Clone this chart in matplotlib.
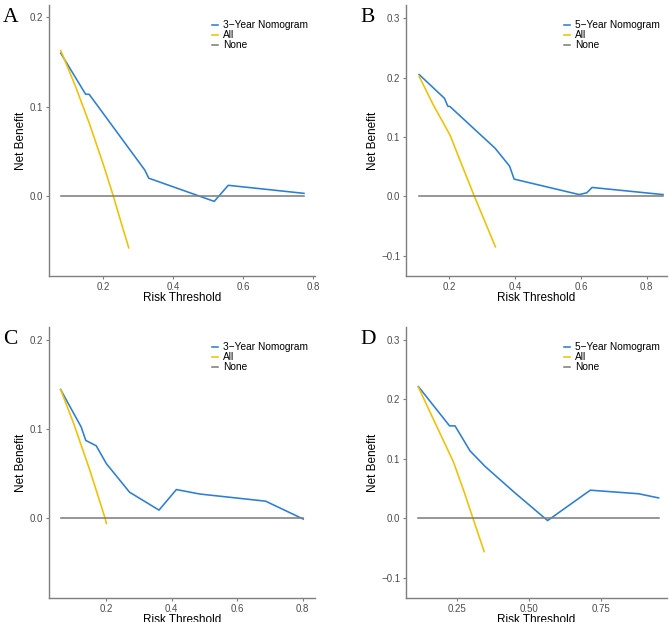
import matplotlib
matplotlib.use('Agg')
import matplotlib.pyplot as plt

plt.rcParams['font.family'] = ['Liberation Sans', 'DejaVu Sans']

# panel A: 3-year, cohort 1
a_nomo_x = [0.079, 0.150, 0.160, 0.319, 0.330, 0.517, 0.557, 0.773]
a_nomo_y = [0.160, 0.114, 0.114, 0.029, 0.020, -0.006, 0.012, 0.003]
a_all_x = [0.079, 0.12, 0.16, 0.20, 0.229, 0.25, 0.273]
a_all_y = [0.163, 0.124, 0.082, 0.036, 0.0, -0.028, -0.058]

# panel B: 5-year, cohort 1
b_nomo_x = [0.108, 0.185, 0.195, 0.202, 0.339, 0.383, 0.397, 0.595, 0.618, 0.634, 0.850]
b_nomo_y = [0.205, 0.165, 0.152, 0.151, 0.081, 0.051, 0.029, 0.003, 0.006, 0.015, 0.003]
b_all_x = [0.108, 0.15, 0.202, 0.24, 0.276, 0.31, 0.340]
b_all_y = [0.202, 0.155, 0.103, 0.050, 0.0, -0.045, -0.085]

# panel C: 3-year, cohort 2
c_nomo_x = [0.060, 0.123, 0.137, 0.169, 0.200, 0.271, 0.361, 0.414, 0.486, 0.687, 0.802]
c_nomo_y = [0.144, 0.102, 0.087, 0.081, 0.061, 0.029, 0.009, 0.032, 0.027, 0.019, -0.001]
c_all_x = [0.060, 0.10, 0.15, 0.196, 0.200]
c_all_y = [0.144, 0.106, 0.053, 0.0, -0.006]

# panel D: 5-year, cohort 2
d_nomo_x = [0.117, 0.225, 0.244, 0.296, 0.348, 0.453, 0.565, 0.713, 0.881, 0.950]
d_nomo_y = [0.221, 0.155, 0.155, 0.113, 0.087, 0.042, -0.004, 0.047, 0.041, 0.034]
d_all_x = [0.117, 0.17, 0.238, 0.275, 0.306, 0.345]
d_all_y = [0.220, 0.165, 0.095, 0.045, 0.0, -0.056]

blue = '#2a7fd4'
yellow = '#f2c000'
grey = '#7f7f7f'

panels = [
    ('A', '3\u2212Year Nomogram', a_nomo_x, a_nomo_y, a_all_x, a_all_y,
     [49, 5, 315, 276], (0.0455, 0.8045), (-0.0896, 0.214), [0.2, 0.4, 0.6, 0.8], [0.0, 0.1, 0.2], '%.1f'),
    ('B', '5\u2212Year Nomogram', b_nomo_x, b_nomo_y, b_all_x, b_all_y,
     [406, 5, 667, 276], (0.068, 0.862), (-0.134, 0.322), [0.2, 0.4, 0.6, 0.8], [-0.1, 0.0, 0.1, 0.2, 0.3], '%.1f'),
    ('C', '3\u2212Year Nomogram', c_nomo_x, c_nomo_y, c_all_x, c_all_y,
     [49, 327, 315, 598], (0.0245, 0.838), (-0.0894, 0.214), [0.2, 0.4, 0.6, 0.8], [0.0, 0.1, 0.2], '%.1f'),
    ('D', '5\u2212Year Nomogram', d_nomo_x, d_nomo_y, d_all_x, d_all_y,
     [406, 327, 667, 598], (0.074, 0.979), (-0.134, 0.321), [0.25, 0.50, 0.75], [-0.1, 0.0, 0.1, 0.2, 0.3], '%.2f'),
]

W, H = 669, 622
fig = plt.figure(figsize=(W / 100, H / 100), dpi=100)

for letter, lab, nx, ny, ax_x, ax_y, box, xl, yl, xt, yt, xfmt in panels:
    l, t, r, b = box
    ax = fig.add_axes([l / W, 1 - b / H, (r - l) / W, (b - t) / H])
    ax.plot(nx, ny, color=blue, lw=1.15, label=lab)
    ax.plot(ax_x, ax_y, color=yellow, lw=1.15, label='All')
    ax.plot([nx[0], nx[-1]], [0, 0], color=grey, lw=1.15, label='None')
    ax.set_xlim(*xl)
    ax.set_ylim(*yl)
    ax.set_xticks(xt)
    ax.set_xticklabels([xfmt % v for v in xt])
    ax.set_yticks(yt)
    ax.set_yticklabels(['%.1f' % v if v >= 0 else '\u2212%.1f' % -v for v in yt])
    for s in ['top', 'right']:
        ax.spines[s].set_visible(False)
    for s in ['left', 'bottom']:
        ax.spines[s].set_color(grey)
        ax.spines[s].set_linewidth(1.0)
    ax.tick_params(colors=grey, labelcolor='#4d4d4d', labelsize=7, length=2.5, width=0.8, pad=1.5)
    ax.set_xlabel('Risk Threshold', fontsize=8.5, labelpad=0)
    ax.set_ylabel('Net Benefit', fontsize=8.5, labelpad=2)
    ax.legend(loc='upper right', bbox_to_anchor=(1.0, 0.97), frameon=False, fontsize=7.3,
              handlelength=0.6, handletextpad=0.5, labelspacing=0.0, borderpad=0.2)
    ax.text(l / W - 46 / W, 1 - t / H - 3 / H, letter, transform=fig.transFigure,
            family='Liberation Serif', fontsize=15.5, ha='left', va='top')

fig.savefig('out.png', dpi=100)
